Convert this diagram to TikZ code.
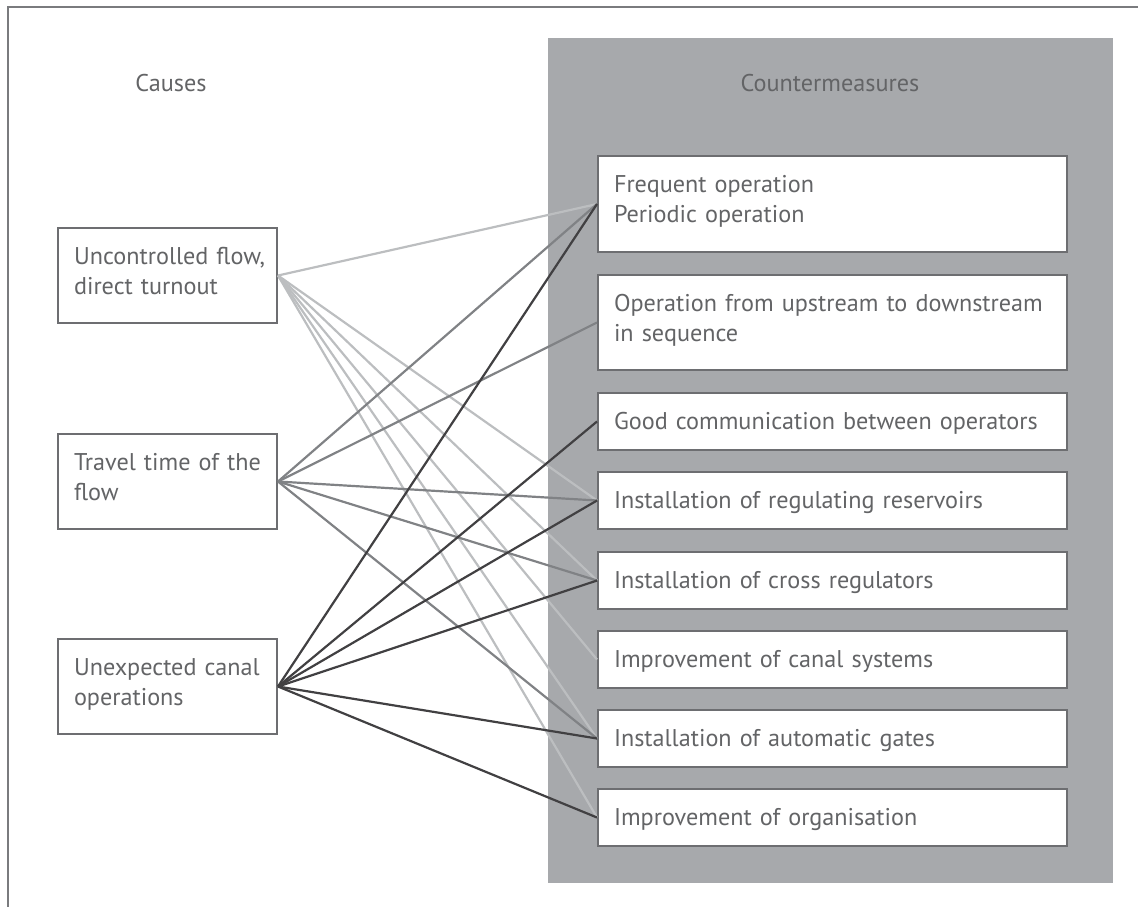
\documentclass[tikz,border=0pt]{standalone}
\usepackage{fontspec}
\setmainfont{PT Sans}
\definecolor{panelc}{HTML}{A7A9AC}
\definecolor{boxc}{HTML}{6D6E71}
\definecolor{txtc}{HTML}{636466}
\definecolor{framec}{HTML}{7A7B7E}
\definecolor{lightc}{HTML}{BCBEC0}
\definecolor{midc}{HTML}{808285}
\definecolor{darkc}{HTML}{414042}
% #1 = extra depth (moves the text up by half of it), #2 = lines
\newcommand{\boxtext}[2]{\raisebox{0pt}[\height][\dimexpr\depth+#1\relax]{\begin{tabular}[t]{@{}l@{}}#2\end{tabular}}}
\begin{document}
\begin{tikzpicture}[x=1pt,y=-1pt,
  every node/.style={font=\fontsize{24.2}{30}\selectfont, text=txtc},
  rbox/.style={draw=boxc, line width=2pt, fill=white, anchor=north west,
    inner xsep=16pt, inner ysep=0pt, align=left, text width=437pt},
  lbox/.style={draw=boxc, line width=2pt, fill=white, anchor=north west,
    inner xsep=16pt, inner ysep=0pt, align=left, text width=187pt, minimum height=95pt},
  panelbox/.style={fill=panelc, anchor=north west, inner sep=0pt},
  head/.style={inner sep=0pt},
  framel/.style={draw=framec, line width=2.5pt},
  lightl/.style={draw=lightc, line width=2.2pt},
  midl/.style={draw=midc, line width=2.2pt},
  darkl/.style={draw=darkc, line width=2.2pt}
]
\useasboundingbox (0,0) rectangle (1138,906);
\begin{scope}
\clip (0,0) rectangle (1138,906);
\draw[framel] (8,7) rectangle (1170,940);
\end{scope}
\node[panelbox, minimum width=565pt, minimum height=845pt] (panel) at (548,38) {};
\node[head] (hcause) at (171,83) {Causes};
\node[head] (hcm) at (830,83) {Countermeasures};

% causes
\node[lbox] (a) at (57,227) {\boxtext{5pt}{Uncontrolled flow,\\direct turnout}};
\node[lbox] (b) at (57,433) {\boxtext{5pt}{Travel time of the\\flow}};
\node[lbox] (c) at (57,638) {\boxtext{5pt}{Unexpected canal\\operations}};

% countermeasures
\node[rbox, minimum height=96pt] (r1) at (597,155) {\boxtext{5pt}{Frequent operation\\Periodic operation}};
\node[rbox, minimum height=95pt] (r2) at (597,274) {\boxtext{5pt}{Operation from upstream to downstream\\in sequence}};
\node[rbox, minimum height=57pt] (r3) at (597,392) {\boxtext{-4pt}{Good communication between operators}};
\node[rbox, minimum height=57pt] (r4) at (597,471) {\boxtext{-4pt}{Installation of regulating reservoirs}};
\node[rbox, minimum height=57pt] (r5) at (597,551) {\boxtext{-4pt}{Installation of cross regulators}};
\node[rbox, minimum height=57pt] (r6) at (597,630) {\boxtext{-4pt}{Improvement of canal systems}};
\node[rbox, minimum height=57pt] (r7) at (597,709) {\boxtext{-4pt}{Installation of automatic gates}};
\node[rbox, minimum height=57pt] (r8) at (597,788) {\boxtext{-4pt}{Improvement of organisation}};

% connectors
\foreach \t in {r1,r4,r5,r6,r7,r8} \draw[lightl] (a.east) -- (\t.west);
\foreach \t in {r1,r2,r4,r5,r7} \draw[midl] (b.east) -- (\t.west);
\foreach \t in {r1,r3,r4,r5,r7,r8} \draw[darkl] (c.east) -- (\t.west);
\end{tikzpicture}
\end{document}
